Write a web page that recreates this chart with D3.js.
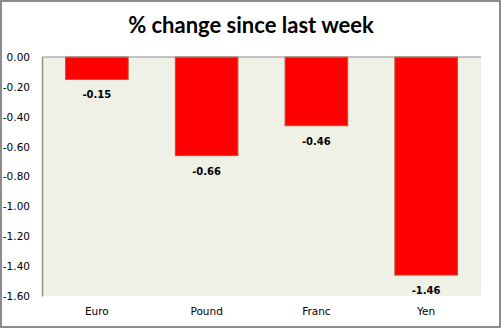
<!DOCTYPE html>
<html>
<head>
<meta charset="utf-8">
<script src="https://cdn.jsdelivr.net/npm/d3@7"></script>
<style>
  html, body { margin: 0; padding: 0; background: #fff; }
  svg { display: block; }
</style>
</head>
<body>
<svg id="chart" width="502" height="329"></svg>
<script>
// Weekly currency moves, in percent
const currencies = ["Euro", "Pound", "Franc", "Yen"];
const changes = [-0.15, -0.66, -0.46, -1.46];
const yTicks = [0, -0.2, -0.4, -0.6, -0.8, -1.0, -1.2, -1.4, -1.6];
const titleText = "% change since last week";

const svg = d3.select("#chart");
const W = 502, H = 329;
const plot = { left: 42, right: 481, top: 57, bottom: 296 };

// two decimals with a plain hyphen for the minus sign
const fmt = d3.formatLocale({ decimal: ".", thousands: ",", grouping: [3], currency: ["", ""], minus: "-" }).format(".2f");

// outer frame
svg.append("rect")
  .attr("x", 1).attr("y", 1)
  .attr("width", W - 3).attr("height", H - 3)
  .attr("fill", "#fff")
  .attr("stroke", "#8c8c8c")
  .attr("stroke-width", 2);

svg.append("text")
  .attr("x", W / 2).attr("y", 33)
  .attr("text-anchor", "middle")
  .attr("font-family", "Lato, 'Open Sans', sans-serif")
  .attr("font-weight", "bold")
  .attr("font-size", 22)
  .attr("fill", "#000")
  .text(titleText);

const x = d3.scaleBand()
  .domain(currencies)
  .range([plot.left, plot.right])
  .paddingInner(0.43)
  .paddingOuter(0.215);

const y = d3.scaleLinear()
  .domain([0, -1.6])
  .range([plot.top, plot.bottom]);

// plot background
svg.append("rect")
  .attr("x", plot.left).attr("y", plot.top)
  .attr("width", plot.right - plot.left)
  .attr("height", plot.bottom - plot.top)
  .attr("fill", "#eff1e7");

// bars
svg.append("g").selectAll("rect")
  .data(currencies)
  .join("rect")
  .attr("x", d => x(d))
  .attr("y", y(0))
  .attr("width", x.bandwidth())
  .attr("height", (d, i) => y(changes[i]) - y(0))
  .attr("fill", "#ff0000")
  .attr("stroke", "#b5562e")
  .attr("stroke-width", 1);

// value labels under each bar
svg.append("g").selectAll("text")
  .data(currencies)
  .join("text")
  .attr("x", d => x(d) + x.bandwidth() / 2)
  .attr("y", (d, i) => y(changes[i]) + 19)
  .attr("text-anchor", "middle")
  .attr("font-family", "'DejaVu Sans', Verdana, sans-serif")
  .attr("font-weight", "bold")
  .attr("font-size", 10)
  .attr("fill", "#000")
  .text((d, i) => fmt(changes[i]));

// y axis
const yAxis = svg.append("g")
  .attr("transform", `translate(${plot.left},0)`)
  .call(d3.axisLeft(y).tickValues(yTicks).tickFormat(fmt).tickSize(0).tickPadding(12));
yAxis.select(".domain").attr("stroke", "#8c8c8c").attr("stroke-width", 1.5);
yAxis.selectAll("text")
  .attr("font-family", "'DejaVu Sans', Verdana, sans-serif")
  .attr("font-size", 10.5)
  .attr("fill", "#000");

// zero line along the top
svg.append("line")
  .attr("x1", plot.left).attr("x2", plot.right)
  .attr("y1", y(0)).attr("y2", y(0))
  .attr("stroke", "#8c8c8c")
  .attr("stroke-width", 1);

// category labels
const xAxis = svg.append("g")
  .attr("transform", `translate(0,${plot.bottom})`)
  .call(d3.axisBottom(x).tickSize(0).tickPadding(12));
xAxis.select(".domain").remove();
xAxis.selectAll("text")
  .attr("font-family", "'DejaVu Sans', Verdana, sans-serif")
  .attr("font-size", 10.5)
  .attr("fill", "#000");
</script>
</body>
</html>
